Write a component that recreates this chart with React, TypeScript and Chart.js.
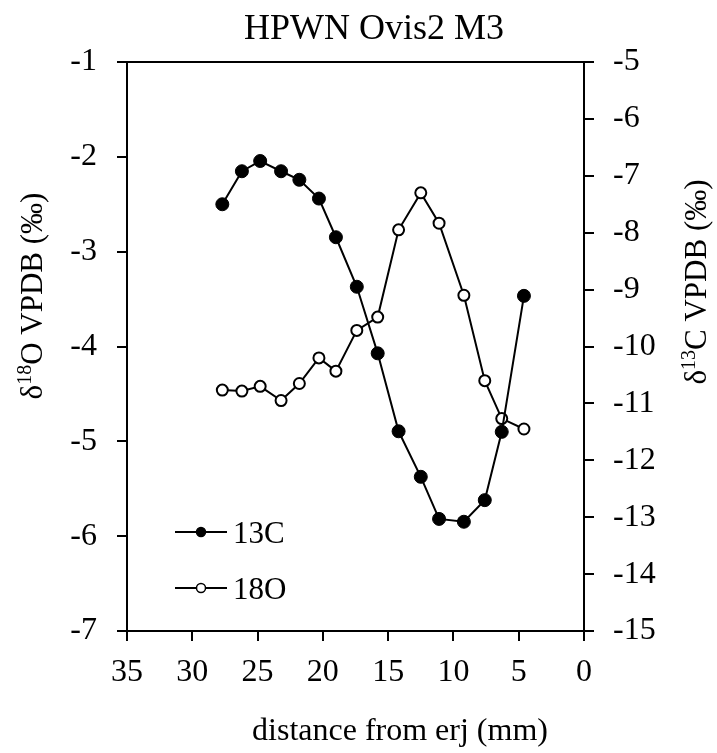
import React, { useEffect, useRef } from "react";
import { Chart, registerables } from "chart.js";

Chart.register(...registerables);

const TITLE = "HPWN Ovis2 M3";
const X_TITLE = "distance from erj (mm)";
const distance = [27.7, 26.2, 24.8, 23.2, 21.8, 20.3, 19.0, 17.4, 15.8, 14.2, 12.5, 11.1, 9.2, 7.6, 6.3, 4.6];
const d13C = [-7.5, -6.92, -6.74, -6.92, -7.07, -7.4, -8.08, -8.95, -10.12, -11.49, -12.29, -13.03, -13.08, -12.7, -11.5, -9.11];
const d18O = [-4.46, -4.47, -4.42, -4.57, -4.39, -4.12, -4.26, -3.83, -3.69, -2.77, -2.38, -2.7, -3.46, -4.36, -4.76, -4.87];
const LEFT_TITLE = ["δ", "18", "O VPDB (‰)"];
const RIGHT_TITLE = ["δ", "13", "C VPDB (‰)"];
const SERIES_NAMES = ["13C", "18O"];

const FONT = '"Liberation Serif", "Times New Roman", serif';

function drawSupTitle(ctx: CanvasRenderingContext2D, parts: string[], cx: number, cy: number, size: number) {
  ctx.save();
  ctx.translate(cx, cy);
  ctx.rotate(-Math.PI / 2);
  const big = `${size}px ${FONT}`;
  const small = `${Math.round(size * 0.65)}px ${FONT}`;
  ctx.font = big;
  const w0 = ctx.measureText(parts[0]).width;
  const w2 = ctx.measureText(parts[2]).width;
  ctx.font = small;
  const w1 = ctx.measureText(parts[1]).width;
  const total = w0 + w1 + w2;
  let x = -total / 2;
  ctx.fillStyle = "#000";
  ctx.textAlign = "left";
  ctx.textBaseline = "alphabetic";
  ctx.font = big;
  ctx.fillText(parts[0], x, 0);
  x += w0;
  ctx.font = small;
  ctx.fillText(parts[1], x, -size * 0.36);
  x += w1;
  ctx.font = big;
  ctx.fillText(parts[2], x, 0);
  ctx.restore();
}

const decor = {
  id: "decor",
  afterDraw(chart: any) {
    const ctx: CanvasRenderingContext2D = chart.ctx;
    const ca = chart.chartArea;
    ctx.save();
    ctx.strokeStyle = "#000";
    ctx.lineWidth = 2;
    ctx.beginPath();
    ctx.moveTo(ca.left - 1, ca.top);
    ctx.lineTo(ca.right + 1, ca.top);
    ctx.stroke();

    ctx.fillStyle = "#000";
    ctx.textAlign = "center";
    ctx.textBaseline = "alphabetic";
    ctx.font = `36px ${FONT}`;
    ctx.fillText(TITLE, 374, 39);
    ctx.font = `32px ${FONT}`;
    ctx.fillText(X_TITLE, 400, 740);

    drawSupTitle(ctx, LEFT_TITLE, 42, 296, 31);
    drawSupTitle(ctx, RIGHT_TITLE, 706, 282, 31);

    // legend
    const rows = [
      { y: 532, fill: "#000", name: SERIES_NAMES[0] },
      { y: 588, fill: "#fff", name: SERIES_NAMES[1] },
    ];
    rows.forEach((r) => {
      ctx.strokeStyle = "#000";
      ctx.lineWidth = 2;
      ctx.beginPath();
      ctx.moveTo(175, r.y);
      ctx.lineTo(227, r.y);
      ctx.stroke();
      ctx.beginPath();
      ctx.arc(201, r.y, 4.5, 0, Math.PI * 2);
      ctx.fillStyle = r.fill;
      ctx.fill();
      ctx.lineWidth = 1.5;
      ctx.stroke();
      ctx.fillStyle = "#000";
      ctx.textAlign = "left";
      ctx.font = `31px ${FONT}`;
      ctx.fillText(r.name, 233, r.y + 11);
    });
    ctx.restore();
  },
};

export default function App() {
  const ref = useRef<HTMLCanvasElement>(null);
  useEffect(() => {
    if (!ref.current) return;
    const axisCommon = {
      grid: { drawOnChartArea: false, drawTicks: true, tickLength: 10, tickColor: "#000", tickWidth: 2, lineWidth: 2, color: "#000" },
      border: { display: true, color: "#000", width: 2 },
    };
    const chart = new Chart(ref.current, {
      type: "scatter",
      data: {
        datasets: [
          {
            label: SERIES_NAMES[0],
            data: distance.map((x, i) => ({ x, y: d13C[i] })),
            yAxisID: "y2",
            showLine: true,
            borderColor: "#000",
            borderWidth: 2,
            backgroundColor: "#000",
            pointBackgroundColor: "#000",
            pointBorderColor: "#000",
            pointBorderWidth: 1,
            pointRadius: 6.5,
          },
          {
            label: SERIES_NAMES[1],
            data: distance.map((x, i) => ({ x, y: d18O[i] })),
            yAxisID: "y",
            showLine: true,
            borderColor: "#000",
            borderWidth: 2,
            backgroundColor: "#fff",
            pointBackgroundColor: "#fff",
            pointBorderColor: "#000",
            pointBorderWidth: 2,
            pointRadius: 5.5,
          },
        ],
      },
      options: {
        responsive: false,
        animation: false,
        layout: { padding: { top: 62, left: 0, right: 0, bottom: 0 } },
        plugins: { legend: { display: false }, title: { display: false }, tooltip: { enabled: false } },
        scales: {
          x: {
            type: "linear",
            min: 0,
            max: 35,
            reverse: true,
            ...axisCommon,
            ticks: { stepSize: 5, color: "#000", padding: 12, maxRotation: 0, font: { family: FONT, size: 32 } },
            afterFit: (s: any) => { s.height = 122; },
          },
          y: {
            type: "linear",
            position: "left",
            min: -7,
            max: -1,
            ...axisCommon,
            ticks: { stepSize: 1, color: "#000", padding: 20, font: { family: FONT, size: 32 } },
            afterFit: (s: any) => { s.width = 127; },
          },
          y2: {
            type: "linear",
            position: "right",
            min: -15,
            max: -5,
            ...axisCommon,
            ticks: { stepSize: 1, color: "#000", padding: 19, font: { family: FONT, size: 32 } },
            afterFit: (s: any) => { s.width = 133; },
          },
        },
      } as any,
      plugins: [decor],
    });
    return () => chart.destroy();
  }, []);
  return (
    <div style={{ position: "fixed", left: 0, top: 0, width: 717, height: 753, background: "#fff" }}>
      <canvas ref={ref} width={717} height={753} />
    </div>
  );
}
